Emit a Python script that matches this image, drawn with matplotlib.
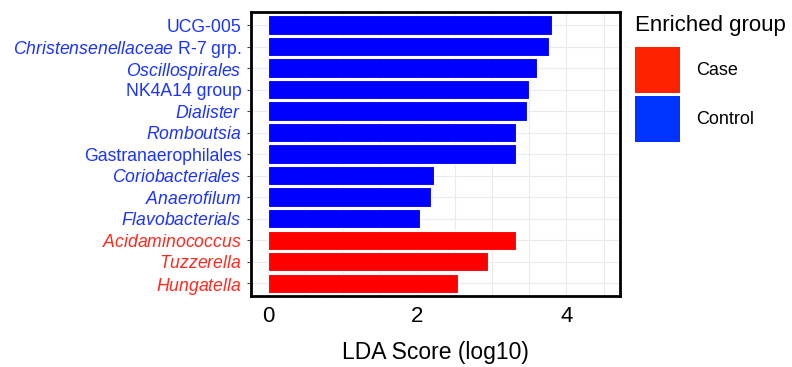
import matplotlib
matplotlib.use("Agg")
import matplotlib.pyplot as plt
from matplotlib.patches import Patch
import numpy as np

taxa = ["UCG-005", "Christensenellaceae R-7 grp.", "Oscillospirales", "NK4A14 group",
        "Dialister", "Romboutsia", "Gastranaerophilales", "Coriobacteriales",
        "Anaerofilum", "Flavobacterials", "Acidaminococcus", "Tuzzerella", "Hungatella"]
label_tex = [r"UCG-005", r"$\it{Christensenellaceae}$ R-7 grp.", r"$\it{Oscillospirales}$",
             r"NK4A14 group", r"$\it{Dialister}$", r"$\it{Romboutsia}$",
             r"Gastranaerophilales", r"$\it{Coriobacteriales}$", r"$\it{Anaerofilum}$",
             r"$\it{Flavobacterials}$", r"$\it{Acidaminococcus}$", r"$\it{Tuzzerella}$",
             r"$\it{Hungatella}$"]
lda = [3.80, 3.77, 3.61, 3.50, 3.47, 3.33, 3.32, 2.23, 2.19, 2.03, 3.32, 2.95, 2.54]
group = ["Control"] * 10 + ["Case"] * 3

bar_col = {"Case": "#FF0000", "Control": "#0000FF"}
txt_col = {"Case": "#FF2A1F", "Control": "#1A33FF"}
leg_col = {"Case": "#FF2200", "Control": "#0033FF"}

plt.rcParams['font.family'] = ['Liberation Sans', 'DejaVu Sans']
plt.rcParams['mathtext.fontset'] = 'custom'
plt.rcParams['mathtext.it'] = 'Liberation Sans:italic'
plt.rcParams['mathtext.rm'] = 'Liberation Sans'

fig = plt.figure(figsize=(7.92, 3.67), dpi=100)
ax = fig.add_axes([0.317, 0.193, 0.466, 0.774])

n = len(taxa)
y = np.arange(n)[::-1]
ax.barh(y, lda, height=0.9, color=[bar_col[g] for g in group],
        edgecolor="white", linewidth=0.8, zorder=3)

ax.set_xlim(-0.23, 4.72)
ax.set_ylim(-0.6, n - 0.4)
ax.set_xticks([0, 2, 4])
ax.set_xticks([1, 3, 0.5, 1.5, 2.5, 3.5, 4.5], minor=True)
ax.set_yticks(y)
ax.set_yticklabels(label_tex, fontsize=12.7)
for lab, g in zip(ax.get_yticklabels(), group):
    lab.set_color(txt_col[g])
ax.tick_params(axis='x', labelsize=16, length=0, which='both', pad=7)
ax.tick_params(axis='y', length=3, color="#444444", pad=4)
ax.grid(True, which='both', color="#EBEBEB", linewidth=0.8, zorder=0)
for s in ax.spines.values():
    s.set_linewidth(2)
    s.set_color("black")
    s.set_zorder(5)
ax.set_xlabel("LDA Score (log10)", fontsize=16.5, labelpad=10)

handles = [Patch(facecolor=leg_col[g], edgecolor='none', label=g) for g in ["Case", "Control"]]
leg = fig.legend(handles=handles, title="Enriched group", loc="upper left",
                 bbox_to_anchor=(0.802, 0.96), frameon=False, fontsize=13,
                 title_fontsize=16, handlelength=2.5, handleheight=3.47,
                 labelspacing=0.21, handletextpad=0.85, alignment='left',
                 borderaxespad=0, borderpad=0)
leg._legend_box.sep = 8.5

fig.savefig("out.png", dpi=100)
